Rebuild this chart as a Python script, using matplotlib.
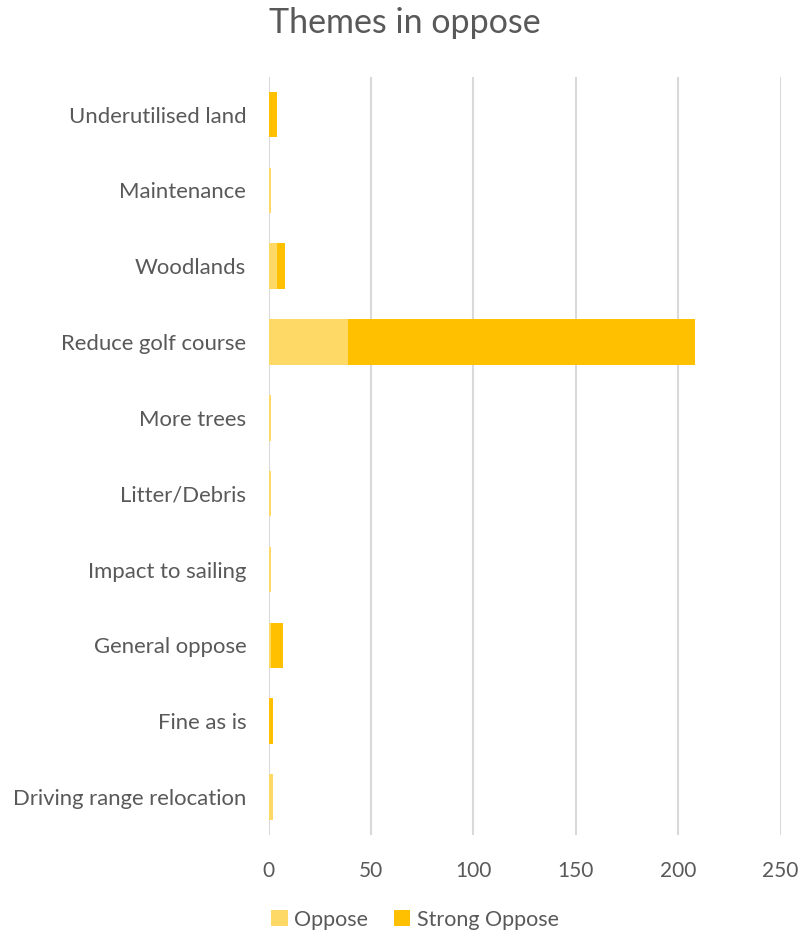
import matplotlib
matplotlib.use('Agg')
import matplotlib.pyplot as plt
import numpy as np

# ── datos ─────────────────────────────────────────────────────────────────────
categorias = ['Underutilised land', 'Maintenance', 'Woodlands', 'Reduce golf course',
              'More trees', 'Litter/Debris', 'Impact to sailing', 'General oppose',
              'Fine as is', 'Driving range relocation']
oppose        = [0, 1, 4, 39, 1, 1, 1, 1, 0, 2]
strong_oppose = [4, 0, 4, 169, 0, 0, 0, 6, 2, 0]
ticks_x = [0, 50, 100, 150, 200, 250]

C_OPP    = '#FFD966'
C_STRONG = '#FFC000'
C_TEXT   = '#595959'
C_GRID   = '#D9D9D9'

plt.rcParams['font.family'] = ['Lato', 'DejaVu Sans']

fig = plt.figure(figsize=(8.09, 9.34), dpi=100, facecolor='white')
ax = fig.add_axes([0.332, 0.106, 0.633, 0.812])

y = np.arange(len(categorias))
ax.barh(y, oppose, height=0.6, color=C_OPP, label='Oppose', zorder=3)
ax.barh(y, strong_oppose, left=oppose, height=0.6, color=C_STRONG,
        label='Strong Oppose', zorder=3)

ax.set_ylim(len(categorias) - 0.5, -0.5)
ax.set_xlim(0, 250)
ax.set_xticks(ticks_x)
ax.set_yticks(y)
ax.set_yticklabels(categorias)
ax.tick_params(axis='y', length=0, labelsize=15.9, colors=C_TEXT, pad=16)
ax.tick_params(axis='x', length=0, labelsize=15, colors=C_TEXT, pad=19)
ax.grid(axis='x', color=C_GRID, linewidth=1.5, zorder=0)
for s in ax.spines.values():
    s.set_visible(False)

fig.suptitle('Themes in oppose', fontsize=24.5, color=C_TEXT, y=0.992, va='top')
fig.legend(loc='lower center', bbox_to_anchor=(0.513, -0.016), ncol=2, frameon=False,
           fontsize=15.5, labelcolor=C_TEXT, handlelength=0.75, handleheight=0.75,
           handletextpad=0.3, columnspacing=1.2)

plt.savefig('out.png', dpi=100, facecolor='white')
